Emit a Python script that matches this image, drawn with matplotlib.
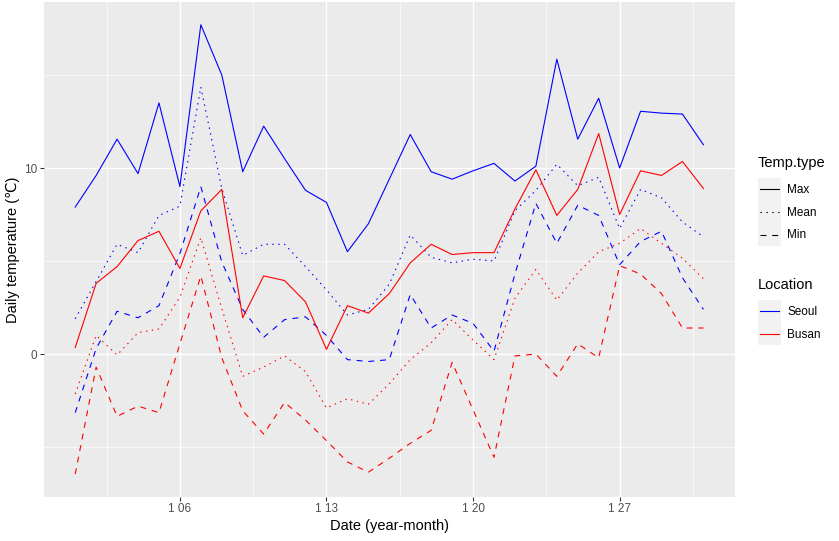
import numpy as np
import pandas as pd
import matplotlib
matplotlib.use("Agg")
import matplotlib.pyplot as plt
import matplotlib.dates as mdates
from matplotlib.lines import Line2D
from matplotlib.patches import Rectangle
from matplotlib.legend_handler import HandlerBase

plt.rcParams['font.family'] = ['Liberation Sans', 'DejaVu Sans']

# ---------------- data ----------------
dates = pd.date_range('2021-01-01', periods=31, freq='D')
tick_dates = pd.to_datetime(['2021-01-06', '2021-01-13', '2021-01-20', '2021-01-27'])
tick_labels = ['1 06', '1 13', '1 20', '1 27']
y_ticks = [0, 10]
y_minor = [-5, 5, 15]

seoul_max = [7.9, 9.6, 11.55, 9.7, 13.5, 9.0, 17.7, 15.0, 9.8, 12.25, 10.5, 8.8, 8.15, 5.5, 7.0, 9.4,
             11.8, 9.8, 9.4, 9.85, 10.25, 9.3, 10.1, 15.85, 11.55, 13.75, 10.0, 13.05, 12.95, 12.9, 11.25]
seoul_mean = [1.9, 3.9, 5.9, 5.45, 7.45, 7.95, 14.35, 8.9, 5.3, 5.9, 5.9, 4.7, 3.45, 2.1, 2.4, 3.75,
              6.4, 5.2, 4.9, 5.1, 5.0, 7.7, 8.8, 10.2, 9.05, 9.5, 6.75, 8.85, 8.4, 7.1, 6.3]
seoul_min = [-3.15, 0.3, 2.3, 1.95, 2.6, 5.4, 9.0, 4.95, 2.4, 0.9, 1.85, 2.0, 1.0, -0.3, -0.4, -0.3,
             3.2, 1.4, 2.1, 1.65, 0.15, 4.3, 8.1, 5.95, 8.0, 7.45, 4.8, 6.05, 6.6, 4.1, 2.4]
busan_max = [0.35, 3.8, 4.7, 6.1, 6.6, 4.6, 7.7, 8.85, 1.95, 4.2, 3.95, 2.8, 0.25, 2.6, 2.2, 3.25,
             4.9, 5.9, 5.35, 5.45, 5.45, 7.8, 9.9, 7.45, 8.85, 11.85, 7.5, 9.85, 9.6, 10.35, 8.9]
busan_mean = [-2.15, 1.0, -0.05, 1.15, 1.35, 3.05, 6.25, 2.45, -1.2, -0.7, -0.1, -0.95, -2.9, -2.4, -2.7, -1.6,
              -0.3, 0.6, 1.85, 0.75, -0.3, 3.0, 4.55, 2.9, 4.35, 5.5, 5.95, 6.75, 5.95, 5.15, 4.05]
busan_min = [-6.45, -0.7, -3.35, -2.8, -3.15, 0.55, 4.2, -0.2, -3.05, -4.3, -2.6, -3.55, -4.65, -5.8, -6.35, -5.6,
             -4.8, -4.1, -0.45, -3.0, -5.55, -0.1, 0.0, -1.2, 0.55, -0.2, 4.75, 4.3, 3.25, 1.4, 1.4]

locations = ['Seoul', 'Busan']
temp_types = ['Max', 'Mean', 'Min']
loc_colors = {'Seoul': '#0000FF', 'Busan': '#FF0000'}
series = {
    ('Seoul', 'Max'): seoul_max, ('Seoul', 'Mean'): seoul_mean, ('Seoul', 'Min'): seoul_min,
    ('Busan', 'Max'): busan_max, ('Busan', 'Mean'): busan_mean, ('Busan', 'Min'): busan_min,
}

# ---------------- styles ----------------
LW = 0.8
styles = {'Max': '-', 'Mean': (0, (1.3, 4.0)), 'Min': (0, (5.3, 5.3))}

W, H = 839, 541
fig = plt.figure(figsize=(W / 100, H / 100), dpi=100)
left, right, top, bottom = 43.8, 734.8, 2.3, 496.5
ax = fig.add_axes([left / W, 1 - bottom / H, (right - left) / W, (bottom - top) / H])
ax.set_facecolor('#EBEBEB')
for s in ax.spines.values():
    s.set_visible(False)

for loc in locations:
    for tt in temp_types:
        ax.plot(dates, series[(loc, tt)], color=loc_colors[loc], linestyle=styles[tt], linewidth=LW)

ax.margins(x=0.05, y=0.05)

ax.set_xticks(tick_dates)
ax.set_xticklabels(tick_labels)
minor_x = [d - pd.Timedelta(hours=84) for d in tick_dates] + [tick_dates[-1] + pd.Timedelta(hours=84)]
ax.set_xticks(minor_x, minor=True)
ax.set_yticks(y_ticks)
ax.set_yticks(y_minor, minor=True)

ax.set_axisbelow(True)
ax.grid(which='major', color='white', linewidth=1.0)
ax.grid(which='minor', color='white', linewidth=0.5)
ax.tick_params(which='major', length=2.7, width=0.8, color='#333333', labelcolor='#4D4D4D',
               labelsize=8.5, pad=2.2)
ax.tick_params(which='minor', length=0)

ax.set_xlabel('Date (year-month)', fontsize=10.5, color='black', labelpad=3)
ax.set_ylabel('Daily temperature (\u2103)', fontsize=10.5, color='black', labelpad=2.5)


# ---------------- legends ----------------
class KeyHandler(HandlerBase):
    def create_artists(self, legend, orig_handle, xdescent, ydescent, width, height, fontsize, trans):
        bg = Rectangle((-xdescent, -ydescent), width, height, facecolor='#F2F2F2',
                       edgecolor='none', transform=trans)
        y = -ydescent + height / 2
        pad = width * 0.09
        ln = Line2D([-xdescent + pad, -xdescent + width - pad], [y, y])
        ln.update_from(orig_handle)
        ln.set_transform(trans)
        return [bg, ln]


fs = 8.5
key_pt = 16.5
klen = key_pt / fs
kheight = (key_pt / fs - 0.245) / 0.65
type_handles = [Line2D([], [], color='black', linestyle=styles[t], linewidth=LW) for t in temp_types]
loc_handles = [Line2D([], [], color=loc_colors[l], linestyle='-', linewidth=LW) for l in locations]

common = dict(frameon=False, fontsize=fs, title_fontsize=10.5, loc='upper left', borderpad=0,
              borderaxespad=0, labelspacing=0, handlelength=klen, handleheight=kheight,
              handletextpad=0.55, alignment='left', handler_map={Line2D: KeyHandler()})
leg1 = fig.legend(type_handles, temp_types, title='Temp.type',
                  bbox_to_anchor=(758 / W, 1 - 156 / H), **common)
leg2 = fig.legend(loc_handles, locations, title='Location',
                  bbox_to_anchor=(758 / W, 1 - 278 / H), **common)
for lg in (leg1, leg2):
    lg._legend_box.sep = 5.5

fig.savefig('out.png', dpi=100, facecolor='white')
